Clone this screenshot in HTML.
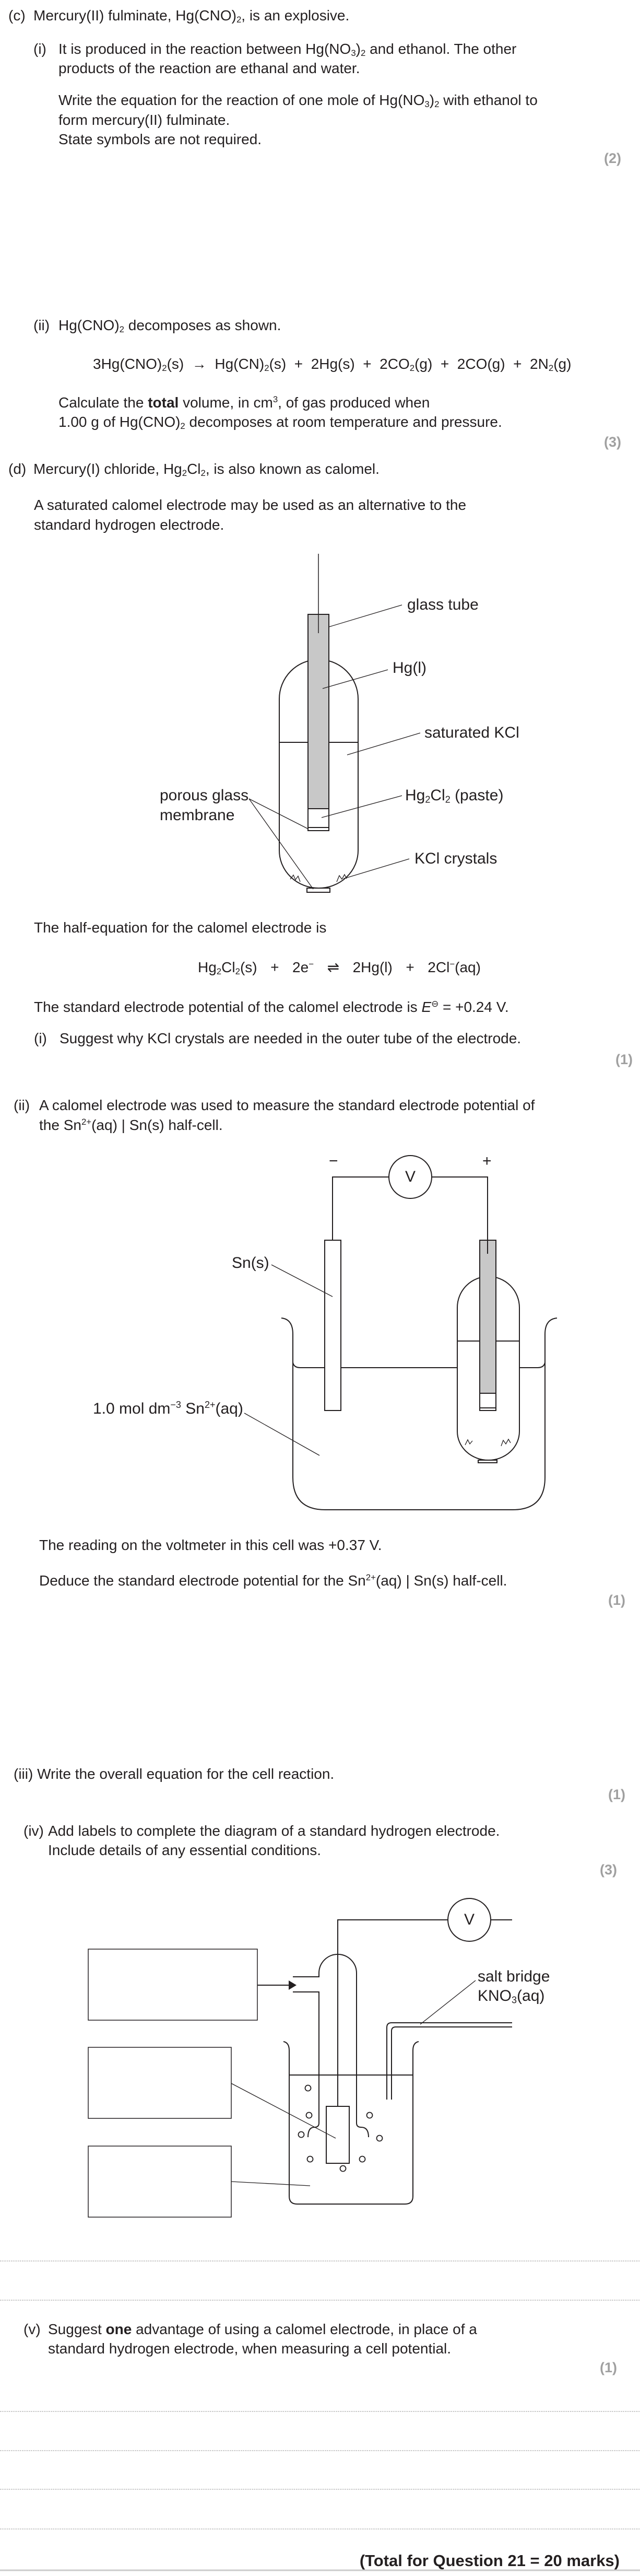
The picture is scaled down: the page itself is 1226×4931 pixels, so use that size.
<!DOCTYPE html>
<html><head><meta charset="utf-8">
<style>
html,body{margin:0;padding:0;background:#fff;}
body{width:1226px;height:4931px;position:relative;overflow:hidden;font-family:"Liberation Sans",sans-serif;color:#231f20;}
.t{position:absolute;font-size:28px;line-height:36px;white-space:nowrap;}
.m{position:absolute;font-size:27px;line-height:36px;font-weight:bold;color:#a0a0a0;white-space:nowrap;}
.l{position:absolute;font-size:30px;line-height:30px;white-space:nowrap;}
sub{font-size:60%;vertical-align:-0.25em;line-height:0;}
sup{font-size:60%;vertical-align:0.6em;line-height:0;}
svg{position:absolute;left:0;top:0;}
</style></head><body>
<svg width="1226" height="4931" viewBox="0 0 1226 4931" fill="none" stroke="#231f20" stroke-width="2">
<path d="M535,1338 A75.5,75.5 0 0 1 686,1338 L686,1628 A75.5,72 0 0 1 610,1700 A75.5,72 0 0 1 535,1628 Z" fill="#fff"/>
<rect x="588" y="1700" width="44" height="8" fill="#fff"/>
<line x1="535" y1="1421" x2="590" y2="1421"/><line x1="630" y1="1421" x2="686" y2="1421"/>
<rect x="590" y="1176" width="40" height="372" fill="#c8c8c8"/>
<rect x="590" y="1548" width="40" height="42" fill="#fff"/>
<line x1="590" y1="1584" x2="630" y2="1584"/>
<line x1="610" y1="1060" x2="610" y2="1212" stroke-width="1.5"/>
<polyline points="556,1683 562,1675 566,1684 571,1677 575,1688" stroke-width="1.3"/>
<polyline points="645,1688 650,1676 655,1683 660,1674 664,1682" stroke-width="1.3"/>
<g stroke-width="1.3">
<line x1="630" y1="1200" x2="770" y2="1158"/>
<line x1="618" y1="1318" x2="743" y2="1282"/>
<line x1="665" y1="1445" x2="805" y2="1403"/>
<line x1="616" y1="1565" x2="770" y2="1523"/>
<line x1="658" y1="1682" x2="784" y2="1644"/>
<line x1="477" y1="1529" x2="589" y2="1586"/>
<line x1="477" y1="1529" x2="600" y2="1702"/>
</g>
<path d="M539,2523 Q561,2525 561,2554 L561,2828 Q561,2890 623,2890 L982,2890 Q1044,2890 1044,2828 L1044,2554 Q1044,2525 1067,2523"/>
<path d="M561,2608 Q563,2618 575,2618 L622,2618 M653,2618 L876,2618 M995,2618 L1030,2618 Q1042,2618 1044,2608"/>
<rect x="622" y="2374" width="31" height="326" fill="#fff"/>
<path d="M876,2503 A59.5,59.5 0 0 1 995,2503 L995,2740 A59.5,55 0 0 1 935.5,2795 A59.5,55 0 0 1 876,2740 Z" fill="#fff"/>
<rect x="916" y="2795" width="36" height="5" fill="#fff"/>
<line x1="876" y1="2567" x2="919" y2="2567"/><line x1="950" y1="2567" x2="995" y2="2567"/>
<rect x="919" y="2374" width="31" height="293" fill="#c8c8c8"/>
<rect x="919" y="2667" width="31" height="33" fill="#fff"/>
<line x1="919" y1="2695" x2="950" y2="2695"/>
<polyline points="637,2374 637,2253 745,2253"/>
<polyline points="827,2253 934,2253 934,2400"/>
<circle cx="786" cy="2253" r="41" fill="#fff"/>
<polyline points="891,2766 896,2756 900,2764 905,2758" stroke-width="1.3"/>
<polyline points="960,2768 964,2757 969,2764 974,2755 978,2762" stroke-width="1.3"/>
<line x1="520" y1="2421" x2="637" y2="2482" stroke-width="1.3"/>
<line x1="468" y1="2705" x2="612" y2="2786" stroke-width="1.3"/>
<path d="M543,3908 Q554,3910 554,3925 L554,4204 Q554,4219 569,4219 L776,4219 Q791,4219 791,4204 L791,3925 Q791,3910 802,3908"/>
<line x1="554" y1="3972" x2="791" y2="3972"/>
<path d="M561,3784 L611,3784 L611,3777 A36,36 0 0 1 683,3777 L683,4064 Q683,4072 692,4072 Q706,4072 706,4091"/>
<path d="M561,3813 L611,3813 L611,4064 Q611,4072 602,4072 Q590,4072 590,4091"/>
<polyline points="647,4032 647,3675 858,3675"/>
<line x1="940" y1="3675" x2="981" y2="3675"/>
<circle cx="899" cy="3675" r="41" fill="#fff"/>
<rect x="625" y="4032" width="44" height="109" fill="#fff"/>
<line x1="493" y1="3800" x2="556" y2="3800"/>
<polygon points="568,3800 553,3791 553,3809" fill="#231f20" stroke="none"/>
<path d="M981,3872 L750,3872 Q741,3872 741,3881 L741,4019 M981,3880 L758,3880 Q750,3880 750,3888 L750,4019"/>
<rect x="169" y="3731" width="324" height="136" stroke-width="1.5"/>
<rect x="169" y="3919" width="274" height="136" stroke-width="1.5"/>
<rect x="169" y="4108" width="274" height="136" stroke-width="1.5"/>
<line x1="443" y1="3988" x2="643" y2="4093" stroke-width="1.3"/>
<line x1="443" y1="4176" x2="594" y2="4184" stroke-width="1.3"/>
<line x1="911" y1="3791" x2="805" y2="3875" stroke-width="1.3"/>
<g stroke-width="1.8">
<circle cx="590" cy="3997" r="5.5"/><circle cx="592" cy="4049" r="5.5"/><circle cx="577" cy="4086" r="5.5"/>
<circle cx="594" cy="4133" r="5.5"/><circle cx="657" cy="4151" r="5.5"/><circle cx="694" cy="4133" r="5.5"/>
<circle cx="708" cy="4049" r="5.5"/><circle cx="727" cy="4093" r="5.5"/>
</g>
<g stroke="#999" stroke-width="1.5" stroke-dasharray="1.5 2">
<line x1="0" y1="4328" x2="1226" y2="4328"/>
<line x1="0" y1="4403" x2="1226" y2="4403"/>
<line x1="0" y1="4616" x2="1226" y2="4616"/>
<line x1="0" y1="4691" x2="1226" y2="4691"/>
<line x1="0" y1="4765" x2="1226" y2="4765"/>
<line x1="0" y1="4841" x2="1226" y2="4841"/>
</g>
<line x1="0" y1="4920" x2="1226" y2="4920" stroke="#ccc" stroke-width="3"/>
</svg>

<div class="t" style="left:16px;top:12px">(c)</div>
<div class="t" style="left:64px;top:12px">Mercury(II) fulminate, Hg(CNO)<sub>2</sub>, is an explosive.</div>
<div class="t" style="left:64px;top:76px">(i)</div>
<div class="t" style="left:112px;top:76px">It is produced in the reaction between Hg(NO<sub>3</sub>)<sub>2</sub> and ethanol. The other</div>
<div class="t" style="left:112px;top:113px">products of the reaction are ethanal and water.</div>
<div class="t" style="left:112px;top:174px">Write the equation for the reaction of one mole of Hg(NO<sub>3</sub>)<sub>2</sub> with ethanol to</div>
<div class="t" style="left:112px;top:212px">form mercury(II) fulminate.</div>
<div class="t" style="left:112px;top:249px">State symbols are not required.</div>
<div class="m" style="left:1157px;top:285px">(2)</div>

<div class="t" style="left:64px;top:605px">(ii)</div>
<div class="t" style="left:112px;top:605px">Hg(CNO)<sub>2</sub> decomposes as shown.</div>
<div class="t" style="left:178px;top:679px">3Hg(CNO)<sub>2</sub>(s) &nbsp;→ &nbsp;Hg(CN)<sub>2</sub>(s) &nbsp;+ &nbsp;2Hg(s) &nbsp;+ &nbsp;2CO<sub>2</sub>(g) &nbsp;+ &nbsp;2CO(g) &nbsp;+ &nbsp;2N<sub>2</sub>(g)</div>
<div class="t" style="left:112px;top:753px">Calculate the <b>total</b> volume, in cm<sup>3</sup>, of gas produced when</div>
<div class="t" style="left:112px;top:790px">1.00 g of Hg(CNO)<sub>2</sub> decomposes at room temperature and pressure.</div>
<div class="m" style="left:1157px;top:828px">(3)</div>

<div class="t" style="left:16px;top:880px">(d)</div>
<div class="t" style="left:64px;top:880px">Mercury(I) chloride, Hg<sub>2</sub>Cl<sub>2</sub>, is also known as calomel.</div>
<div class="t" style="left:65px;top:949px">A saturated calomel electrode may be used as an alternative to the</div>
<div class="t" style="left:65px;top:987px">standard hydrogen electrode.</div>

<div class="l" style="left:780px;top:1143px">glass tube</div>
<div class="l" style="left:752px;top:1264px">Hg(l)</div>
<div class="l" style="left:813px;top:1388px">saturated KCl</div>
<div class="l" style="left:776px;top:1508px">Hg<sub>2</sub>Cl<sub>2</sub> (paste)</div>
<div class="l" style="left:794px;top:1629px">KCl crystals</div>
<div class="l" style="left:306px;top:1508px">porous glass</div>
<div class="l" style="left:306px;top:1546px">membrane</div>

<div class="t" style="left:65px;top:1758px">The half-equation for the calomel electrode is</div>
<div class="t" style="left:379px;top:1834px;word-spacing:5px">Hg<sub>2</sub>Cl<sub>2</sub>(s) &nbsp;+ &nbsp;2e<sup>−</sup> &nbsp;⇌ &nbsp;2Hg(l) &nbsp;+ &nbsp;2Cl<sup>−</sup>(aq)</div>
<div class="t" style="left:65px;top:1910px">The standard electrode potential of the calomel electrode is <i>E</i><sup>⊖</sup> = +0.24 V.</div>
<div class="t" style="left:65px;top:1970px">(i)</div>
<div class="t" style="left:114px;top:1970px">Suggest why KCl crystals are needed in the outer tube of the electrode.</div>
<div class="m" style="left:1179px;top:2010px">(1)</div>

<div class="t" style="left:26px;top:2098px">(ii)</div>
<div class="t" style="left:75px;top:2098px">A calomel electrode was used to measure the standard electrode potential of</div>
<div class="t" style="left:75px;top:2136px">the Sn<sup>2+</sup>(aq) | Sn(s) half-cell.</div>
<div class="l" style="left:630px;top:2208px">−</div>
<div class="l" style="left:924px;top:2208px">+</div>
<div class="l" style="left:776px;top:2238px">V</div>
<div class="l" style="left:444px;top:2403px">Sn(s)</div>
<div class="l" style="left:178px;top:2682px">1.0 mol dm<sup>−3</sup> Sn<sup>2+</sup>(aq)</div>
<div class="t" style="left:75px;top:2940px">The reading on the voltmeter in this cell was +0.37 V.</div>
<div class="t" style="left:75px;top:3008px">Deduce the standard electrode potential for the Sn<sup>2+</sup>(aq) | Sn(s) half-cell.</div>
<div class="m" style="left:1165px;top:3045px">(1)</div>

<div class="t" style="left:26px;top:3378px">(iii) Write the overall equation for the cell reaction.</div>
<div class="m" style="left:1165px;top:3417px">(1)</div>
<div class="t" style="left:45px;top:3487px">(iv)</div>
<div class="t" style="left:92px;top:3487px">Add labels to complete the diagram of a standard hydrogen electrode.</div>
<div class="t" style="left:92px;top:3524px">Include details of any essential conditions.</div>
<div class="m" style="left:1149px;top:3561px">(3)</div>
<div class="l" style="left:889px;top:3660px">V</div>
<div class="l" style="left:915px;top:3769px">salt bridge</div>
<div class="l" style="left:915px;top:3806px">KNO<sub>3</sub>(aq)</div>

<div class="t" style="left:45px;top:4441px">(v)</div>
<div class="t" style="left:92px;top:4441px">Suggest <b>one</b> advantage of using a calomel electrode, in place of a</div>
<div class="t" style="left:92px;top:4478px">standard hydrogen electrode, when measuring a cell potential.</div>
<div class="m" style="left:1149px;top:4514px">(1)</div>
<div class="t" style="right:39px;top:4884px;font-weight:bold;font-size:31px">(Total for Question 21 = 20 marks)</div>
</body></html>
